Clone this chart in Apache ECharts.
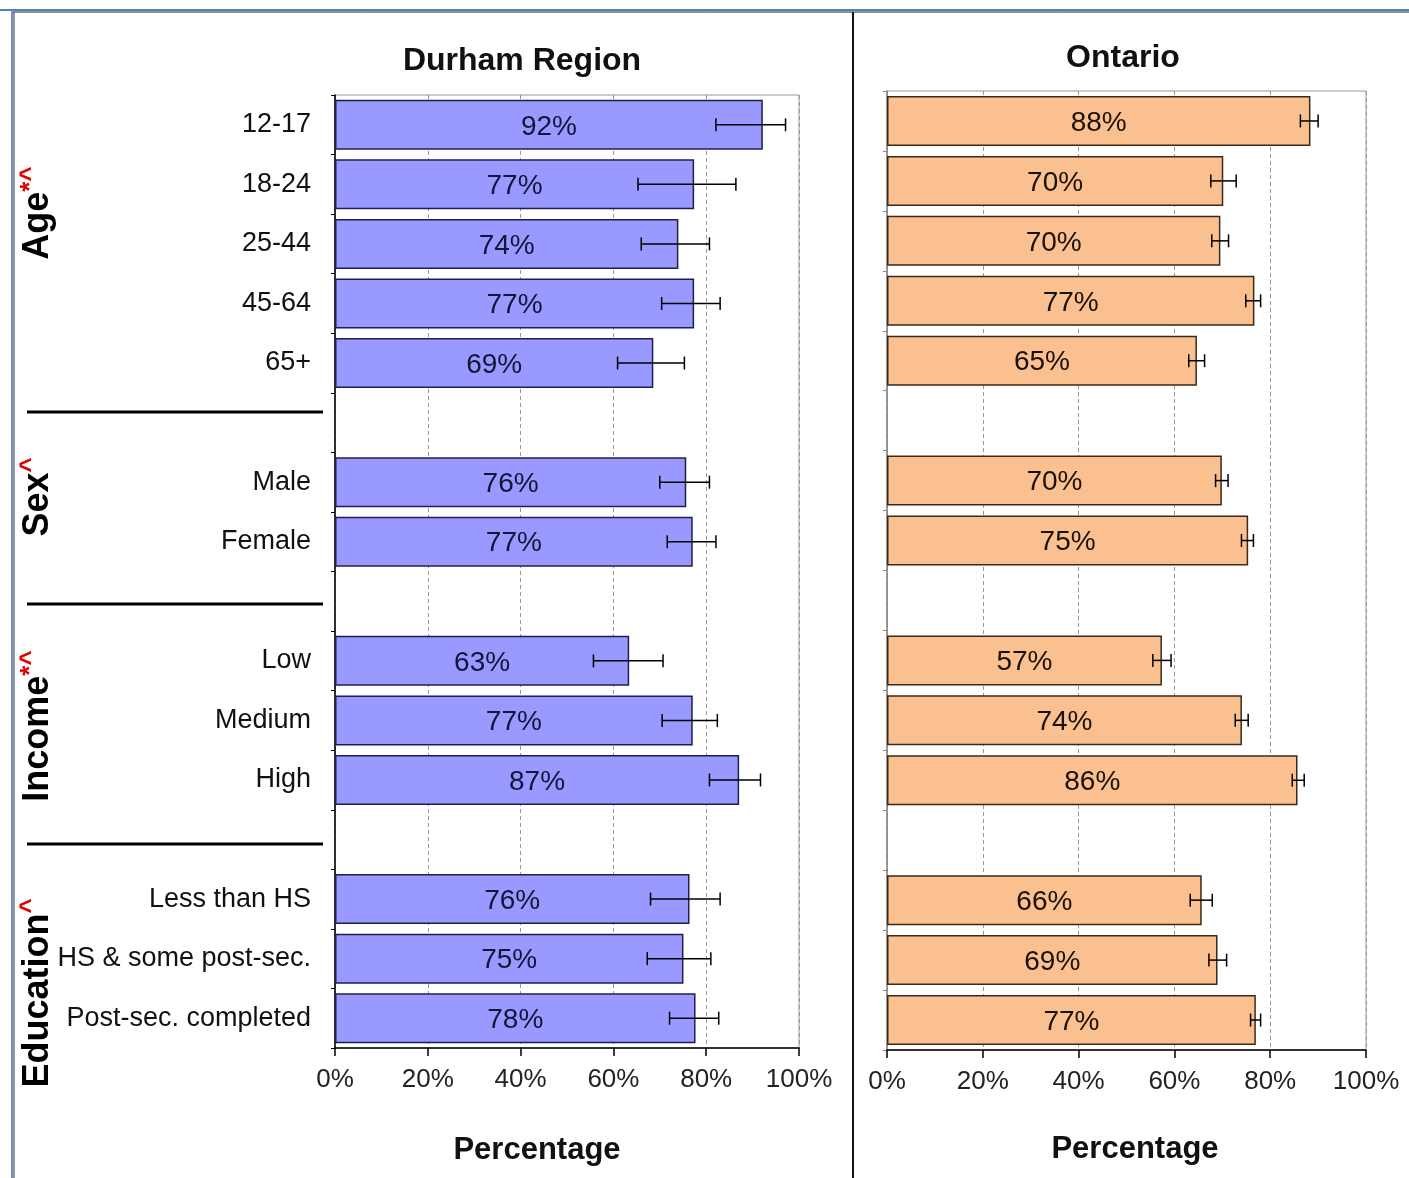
<!DOCTYPE html>
<html>
<head>
<meta charset="utf-8">
<script src="https://cdn.jsdelivr.net/npm/echarts@6/dist/echarts.min.js"></script>
<style>
html,body{margin:0;padding:0;background:#fff;}
#chart{width:1409px;height:1178px;}
</style>
</head>
<body>
<div id="chart"></div>
<script>
// ---------- DATA ----------
const categories = ['12-17','18-24','25-44','45-64','65+',' ','Male','Female','  ','Low','Medium','High','   ','Less than HS','HS & some post-sec.','Post-sec. completed'];
const durhamValues = [92.2, 77.4, 74.0, 77.4, 68.6, null, 75.7, 77.1, null, 63.4, 77.1, 87.1, null, 76.4, 75.1, 77.7];
const durhamLow    = [82.1, 65.3, 66.0, 70.4, 60.9, null, 70.0, 71.6, null, 55.7, 70.5, 80.7, null, 68.0, 67.3, 72.1];
const durhamHigh   = [97.1, 86.4, 80.7, 83.0, 75.3, null, 80.7, 82.1, null, 70.7, 82.4, 91.7, null, 83.0, 81.0, 82.7];
const ontarioValues = [88.4, 70.2, 69.6, 76.7, 64.7, null, 69.9, 75.4, null, 57.4, 74.1, 85.7, null, 65.7, 69.0, 77.0];
const ontarioLow    = [86.3, 67.6, 67.8, 74.9, 63.0, null, 68.6, 74.0, null, 55.5, 72.7, 84.6, null, 63.3, 67.2, 75.9];
const ontarioHigh   = [90.0, 72.9, 71.3, 78.0, 66.3, null, 71.2, 76.5, null, 59.3, 75.4, 87.1, null, 67.9, 70.9, 78.0];
const xTickMin = 0, xTickMax = 100, xTickStep = 20;
const panelTitles = ['Durham Region', 'Ontario'];
const axisTitle = 'Percentage';
const groupLabels = [
  {name: 'Age', mark: '*^'},
  {name: 'Sex', mark: '^'},
  {name: 'Income', mark: '*^'},
  {name: 'Education', mark: '^'}
];

// ---------- CHART ----------
const FONT = '"Liberation Sans", Arial, sans-serif';
const chart = echarts.init(document.getElementById('chart'), null, {renderer: 'canvas'});

function errData(lo, hi) {
  const out = [];
  lo.forEach((v, i) => { if (v != null && hi[i] != null) out.push([i, v, hi[i]]); });
  return out;
}
function errRender(params, api) {
  const y = api.value(0);
  const a = api.coord([api.value(1), y]);
  const b = api.coord([api.value(2), y]);
  const h = 6.5;
  const st = {stroke: '#000', lineWidth: 1.5};
  return {type: 'group', children: [
    {type: 'line', shape: {x1: a[0], y1: a[1], x2: b[0], y2: b[1]}, style: st},
    {type: 'line', shape: {x1: a[0], y1: a[1] - h, x2: a[0], y2: a[1] + h}, style: st},
    {type: 'line', shape: {x1: b[0], y1: b[1] - h, x2: b[0], y2: b[1] + h}, style: st}
  ]};
}
function xAxisCfg(gi) {
  return {
    type: 'value', gridIndex: gi, min: xTickMin, max: xTickMax, interval: xTickStep,
    axisLine: {show: true, lineStyle: {color: '#000', width: 1.5}},
    axisTick: {show: true, length: 8, lineStyle: {color: '#000', width: 1.5}},
    axisLabel: {formatter: '{value}%', fontSize: 26, color: '#222', fontFamily: FONT, margin: 19},
    splitLine: {show: true, lineStyle: {color: '#999', type: [4, 3], width: 1}}
  };
}
function yAxisCfg(gi, showLabels, lineColor) {
  return {
    type: 'category', gridIndex: gi, data: categories, inverse: true,
    axisLine: {show: true, lineStyle: {color: lineColor, width: 1.5}},
    axisTick: {show: true, length: 4, lineStyle: {color: lineColor}},
    axisLabel: {show: showLabels, fontSize: 27, color: '#111', fontFamily: FONT, margin: 24, padding: [4, 0, 0, 0]},
    splitLine: {show: false}
  };
}
function labelCfg(color) {
  return {show: true, position: 'inside', offset: [0, 2], fontSize: 28, color: color, fontFamily: FONT,
    formatter: p => Math.round(p.value) + '%'};
}

const graphics = [];
// frame lines
graphics.push({type: 'line', shape: {x1: 0, y1: 10, x2: 1409, y2: 10}, style: {stroke: '#4f81bd', lineWidth: 2}});
graphics.push({type: 'line', shape: {x1: 12, y1: 12, x2: 1409, y2: 12}, style: {stroke: '#222', lineWidth: 1}});
graphics.push({type: 'line', shape: {x1: 12, y1: 10, x2: 12, y2: 1178}, style: {stroke: '#6a8fcf', lineWidth: 2}});
graphics.push({type: 'line', shape: {x1: 14, y1: 12, x2: 14, y2: 1178}, style: {stroke: '#333', lineWidth: 1}});
graphics.push({type: 'line', shape: {x1: 853, y1: 12, x2: 853, y2: 1178}, style: {stroke: '#111', lineWidth: 2}});
// panel titles
graphics.push({type: 'text', x: 522, y: 61, style: {text: panelTitles[0], font: 'bold 32px ' + FONT, fill: '#111', textAlign: 'center', textVerticalAlign: 'middle'}});
graphics.push({type: 'text', x: 1123, y: 58, style: {text: panelTitles[1], font: 'bold 32px ' + FONT, fill: '#111', textAlign: 'center', textVerticalAlign: 'middle'}});
// axis titles
graphics.push({type: 'text', x: 537, y: 1150, style: {text: axisTitle, font: 'bold 31px ' + FONT, fill: '#111', textAlign: 'center', textVerticalAlign: 'middle'}});
graphics.push({type: 'text', x: 1135, y: 1149, style: {text: axisTitle, font: 'bold 31px ' + FONT, fill: '#111', textAlign: 'center', textVerticalAlign: 'middle'}});
// separators
[412, 604, 844].forEach(y => graphics.push({type: 'line', shape: {x1: 27, y1: y, x2: 323, y2: y}, style: {stroke: '#000', lineWidth: 3}}));
// group labels (rotated)
const groupCenters = [213, 497, 726, 993];
groupLabels.forEach((g, i) => {
  graphics.push({
    type: 'text', x: 37, y: groupCenters[i], rotation: Math.PI / 2,
    style: {
      text: '{b|' + g.name + '}{r|' + g.mark + '}',
      textAlign: 'center', textVerticalAlign: 'middle',
      rich: {
        b: {fontSize: 36, fontWeight: 'bold', fill: '#000', fontFamily: FONT, lineHeight: 38, verticalAlign: 'bottom'},
        r: {fontSize: 26, fontWeight: 'bold', fill: '#e00000', fontFamily: FONT, lineHeight: 38, verticalAlign: 'top'}
      }
    }
  });
});

chart.setOption({
  animation: false,
  backgroundColor: '#fff',
  grid: [
    {left: 335, right: 610, top: 95, bottom: 130, show: true, borderColor: '#999', borderWidth: 1, backgroundColor: 'transparent'},
    {left: 887, right: 43, top: 91, bottom: 128, show: true, borderColor: '#999', borderWidth: 1, backgroundColor: 'transparent'}
  ],
  xAxis: [xAxisCfg(0), xAxisCfg(1)],
  yAxis: [yAxisCfg(0, true, '#000'), yAxisCfg(1, false, '#888')],
  series: [
    {type: 'bar', xAxisIndex: 0, yAxisIndex: 0, data: durhamValues, barWidth: 50,
      itemStyle: {color: '#9999ff', borderColor: '#1f1f4f', borderWidth: 1.5},
      label: labelCfg('#15153a'), z: 2},
    {type: 'custom', xAxisIndex: 0, yAxisIndex: 0, data: errData(durhamLow, durhamHigh),
      encode: {x: [1, 2], y: 0}, renderItem: errRender, z: 5},
    {type: 'bar', xAxisIndex: 1, yAxisIndex: 1, data: ontarioValues, barWidth: 50,
      itemStyle: {color: '#fac090', borderColor: '#3a2a1a', borderWidth: 1.5},
      label: labelCfg('#1a1108'), z: 2},
    {type: 'custom', xAxisIndex: 1, yAxisIndex: 1, data: errData(ontarioLow, ontarioHigh),
      encode: {x: [1, 2], y: 0}, renderItem: errRender, z: 5}
  ],
  graphic: graphics
});
</script>
</body>
</html>
